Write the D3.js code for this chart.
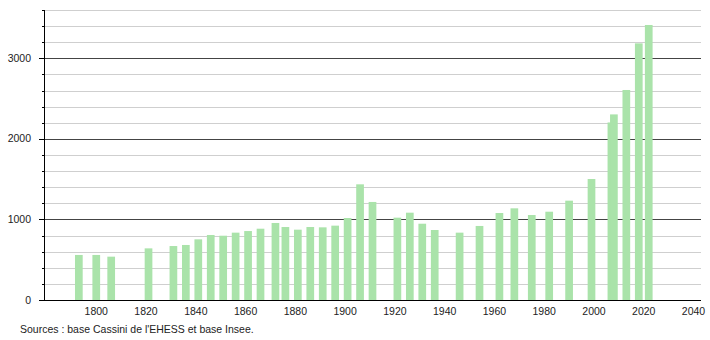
<!DOCTYPE html>
<html>
<head>
<meta charset="utf-8">
<script src="https://cdn.jsdelivr.net/npm/d3@7.9.0/dist/d3.min.js"></script>
<style>
  body { margin: 0; background: #fff; }
  svg text { font-family: "Liberation Sans", Arial, sans-serif; font-size: 10.5px; fill: #222; }
</style>
</head>
<body>
<svg id="chart" width="710" height="340"></svg>
<script>
// census years and population
const years = [1793, 1800, 1806, 1821, 1831, 1836, 1841, 1846, 1851, 1856,
  1861, 1866, 1872, 1876, 1881, 1886, 1891, 1896, 1901, 1906, 1911,
  1921, 1926, 1931, 1936, 1946, 1954, 1962, 1968, 1975, 1982, 1990, 1999,
  2007, 2008, 2013, 2018, 2022];
const population = [559, 559, 538, 641, 670, 683, 753, 807, 798, 836,
  856, 885, 956, 906, 873, 906, 902, 923, 1018, 1436, 1217,
  1022, 1084, 947, 869, 836, 919, 1080, 1138, 1055, 1096, 1233, 1502,
  2204, 2304, 2607, 3186, 3414];
const xTicks = [1800, 1820, 1840, 1860, 1880, 1900, 1920, 1940, 1960, 1980, 2000, 2020, 2040];
const yMajor = [0, 1000, 2000, 3000];
const yGrid = d3.range(200, 3601, 200);
const source = "Sources : base Cassini de l'EHESS et base Insee.";

const plotLeft = 44, plotRight = 701, plotTop = 10, plotBottom = 300;

const x = d3.scaleLinear().domain([1779, 2043]).range([plotLeft, plotRight]);
const y = d3.scaleLinear().domain([0, 3600]).range([plotBottom, plotTop]);

const svg = d3.select('#chart');

// grid lines
svg.append('g')
  .selectAll('line')
  .data(yGrid)
  .join('line')
  .attr('x1', plotLeft).attr('x2', plotRight)
  .attr('y1', d => Math.round(y(d)) + 0.5)
  .attr('y2', d => Math.round(y(d)) + 0.5)
  .attr('stroke', d => d % 1000 === 0 ? '#444' : '#cfcfcf')
  .attr('stroke-width', 1);

// bars
const barW = 7.7;
const bars = years.map((yr, i) => ({ year: yr, value: population[i] }));
svg.append('g')
  .selectAll('rect')
  .data(bars)
  .join('rect')
  .attr('x', d => x(d.year) - barW / 2)
  .attr('width', barW)
  .attr('y', d => y(d.value))
  .attr('height', d => y(0) - y(d.value))
  .attr('fill', '#aae3aa');

// y axis
const yAxis = svg.append('g');
yAxis.append('line')
  .attr('x1', plotLeft + 0.5).attr('x2', plotLeft + 0.5)
  .attr('y1', plotTop).attr('y2', plotBottom)
  .attr('stroke', '#000');
yAxis.selectAll('line.minor')
  .data(yGrid.filter(d => d % 1000 !== 0))
  .join('line')
  .attr('class', 'minor')
  .attr('x1', plotLeft - 2).attr('x2', plotLeft)
  .attr('y1', d => Math.round(y(d)) + 0.5)
  .attr('y2', d => Math.round(y(d)) + 0.5)
  .attr('stroke', '#000');
yAxis.selectAll('line.major')
  .data(yMajor)
  .join('line')
  .attr('class', 'major')
  .attr('x1', plotLeft - 5).attr('x2', plotLeft)
  .attr('y1', d => Math.round(y(d)) + 0.5)
  .attr('y2', d => Math.round(y(d)) + 0.5)
  .attr('stroke', '#000');
yAxis.selectAll('text')
  .data(yMajor)
  .join('text')
  .attr('x', 31)
  .attr('y', d => y(d) + 3.5)
  .attr('text-anchor', 'end')
  .text(d => d);

// x axis
svg.append('line')
  .attr('x1', plotLeft - 5).attr('x2', plotRight)
  .attr('y1', plotBottom + 0.5).attr('y2', plotBottom + 0.5)
  .attr('stroke', '#000');
svg.append('g')
  .selectAll('text')
  .data(xTicks)
  .join('text')
  .attr('x', d => x(d))
  .attr('y', 315)
  .attr('text-anchor', 'middle')
  .text(d => d);

svg.append('text')
  .attr('x', 20)
  .attr('y', 333)
  .text(source);
</script>
</body>
</html>
